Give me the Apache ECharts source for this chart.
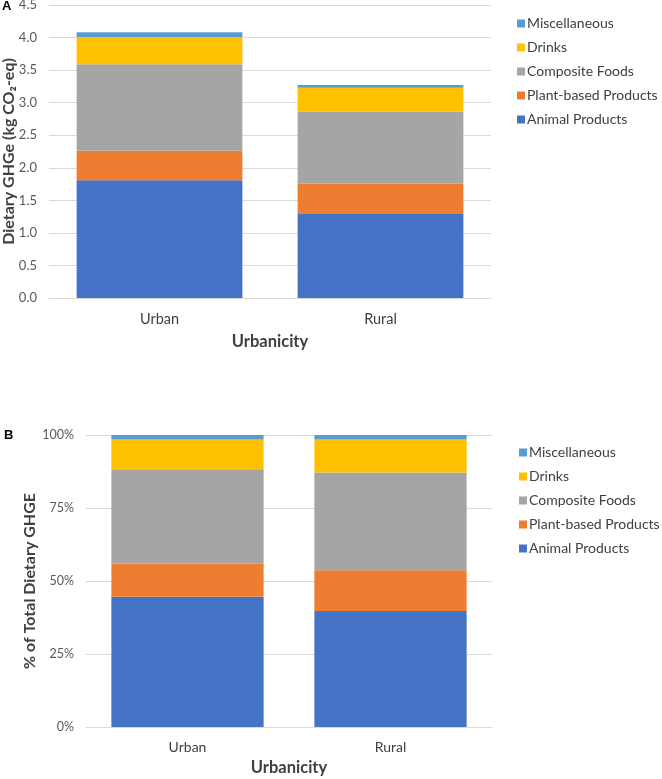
<!DOCTYPE html>
<html>
<head>
<meta charset="utf-8">
<script src="https://cdn.jsdelivr.net/npm/echarts@6/dist/echarts.min.js"></script>
<style>
  html, body { margin: 0; padding: 0; background: #fff; }
  #main { width: 662px; height: 779px; }
</style>
</head>
<body>
<div id="main"></div>
<script>
// categories and series
const categories = ['Urban', 'Rural'];
const seriesNames = ['Animal Products', 'Plant-based Products', 'Composite Foods', 'Drinks', 'Miscellaneous'];
const colors = ['#4472C4', '#ED7D31', '#A5A5A5', '#FFC000', '#5B9BD5'];

// panel A: kg CO2-eq per category
const animalKg = [1.81, 1.29];
const plantKg = [0.45, 0.47];
const compositeKg = [1.33, 1.10];
const drinksKg = [0.42, 0.37];
const miscKg = [0.07, 0.04];

// panel B: share of total (%)
const animalPct = [44.6, 39.7];
const plantPct = [11.4, 14.0];
const compositePct = [32.0, 33.5];
const drinksPct = [10.5, 11.3];
const miscPct = [1.5, 1.5];

const legendOrder = ['Miscellaneous', 'Drinks', 'Composite Foods', 'Plant-based Products', 'Animal Products'];
const yTicksA = [0, 0.5, 1, 1.5, 2, 2.5, 3, 3.5, 4, 4.5];
const yTicksB = [0, 25, 50, 75, 100];

const font = 'Lato, "Open Sans", sans-serif';
const kgData = [animalKg, plantKg, compositeKg, drinksKg, miscKg];
const pctData = [animalPct, plantPct, compositePct, drinksPct, miscPct];

const chart = echarts.init(document.getElementById('main'));

const makeSeries = (data, idx, stack) =>
  data.map((vals, i) => ({
    name: seriesNames[i],
    type: 'bar',
    stack: stack,
    xAxisIndex: idx,
    yAxisIndex: idx,
    barWidth: '75%',
    itemStyle: { color: colors[i] },
    data: vals,
  }));

const legendBase = {
  orient: 'vertical',
  icon: 'rect',
  padding: 0,
  itemWidth: 8,
  itemHeight: 8,
  itemGap: 9,
  data: legendOrder,
  textStyle: { fontFamily: font, fontSize: 14, color: '#404040', lineHeight: 15, padding: [0, 0, 0, -3] },
  selectedMode: false,
};

const yAxisBase = {
  type: 'value',
  axisLine: { show: false },
  axisTick: { show: false },
  splitLine: { lineStyle: { color: '#d9d9d9' } },
  nameLocation: 'middle',
  nameRotate: 90,
  nameMoveOverlap: false,
};

const xAxisBase = {
  type: 'category',
  data: categories,
  axisLine: { lineStyle: { color: '#d9d9d9' } },
  axisTick: { show: false },
  nameLocation: 'middle',
  nameMoveOverlap: false,
  name: 'Urbanicity',
  nameTextStyle: { fontFamily: font, fontSize: 16.5, fontWeight: 'bold', color: '#404040' },
};

chart.setOption({
  animation: false,
  grid: [
    { left: 49, right: 171, top: 5, height: 293, outerBoundsMode: 'none' },
    { left: 86, right: 170, top: 435, height: 292, outerBoundsMode: 'none' },
  ],
  legend: [
    Object.assign({ left: 517, top: 16 }, legendBase),
    Object.assign({ left: 519, top: 445 }, legendBase),
  ],
  xAxis: [
    Object.assign({}, xAxisBase, {
      gridIndex: 0,
      nameGap: 35,
      axisLabel: { fontFamily: font, fontSize: 14.5, color: '#404040', margin: 14 },
    }),
    Object.assign({}, xAxisBase, {
      gridIndex: 1,
      nameGap: 32,
      axisLabel: { fontFamily: font, fontSize: 14, color: '#404040', margin: 13 },
    }),
  ],
  yAxis: [
    Object.assign({}, yAxisBase, {
      gridIndex: 0,
      min: yTicksA[0],
      max: yTicksA[yTicksA.length - 1],
      interval: 0.5,
      name: 'Dietary GHGe (kg CO₂-eq)',
      nameGap: 32,
      nameTextStyle: { fontFamily: font, fontSize: 16, fontWeight: 'bold', color: '#404040' },
      axisLabel: {
        fontFamily: font, fontSize: 13, color: '#595959', margin: 12,
        formatter: (v) => v.toFixed(1),
      },
    }),
    Object.assign({}, yAxisBase, {
      gridIndex: 1,
      min: yTicksB[0],
      max: yTicksB[yTicksB.length - 1],
      interval: 25,
      name: '% of Total Dietary GHGE',
      nameGap: 48,
      nameTextStyle: { fontFamily: font, fontSize: 16, fontWeight: 'bold', color: '#404040' },
      axisLabel: {
        fontFamily: font, fontSize: 12.5, color: '#595959', margin: 12,
        formatter: '{value}%',
      },
    }),
  ],
  graphic: [
    { type: 'text', left: 2, top: 0, style: { text: 'A', font: 'bold 13px "Liberation Sans", Arial', fill: '#000' } },
    { type: 'text', left: 4, top: 429, style: { text: 'B', font: 'bold 13px "Liberation Sans", Arial', fill: '#000' } },
  ],
  series: makeSeries(kgData, 0, 'kg').concat(makeSeries(pctData, 1, 'pct')),
});
</script>
</body>
</html>
